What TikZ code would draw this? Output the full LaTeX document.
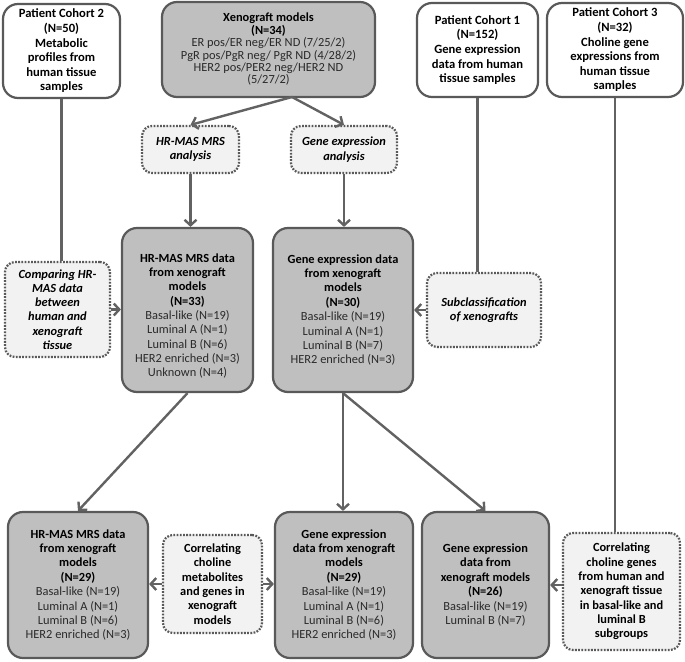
\documentclass[tikz,border=0pt]{standalone}
\usepackage{fontspec}
\setmainfont{Carlito}
\usetikzlibrary{arrows.meta}
\definecolor{bordc}{HTML}{595959}
\definecolor{linec}{HTML}{626262}
\definecolor{boxg}{HTML}{BFBFBF}
\definecolor{dotf}{HTML}{F2F2F2}
\definecolor{txtg}{HTML}{2A2A2A}
\newcommand\hd[1]{\textcolor{black}{\bfseries #1}}
\begin{document}
\begin{tikzpicture}[x=1pt,y=-1pt,
  base/.style={rounded corners=15pt, line width=2.2pt, draw=bordc, align=center, inner sep=2pt,
    font=\fontsize{12.4}{14.4}\selectfont},
  white box/.style={base, fill=white, text=black, font=\fontsize{12.6}{14.6}\selectfont\bfseries},
  gray box/.style={base, fill=boxg, text=txtg},
  plain text/.style={align=center, inner sep=0pt, text=txtg, font=\fontsize{12.4}{14.3}\selectfont},
  dot box/.style={base, rounded corners=10pt, fill=dotf, text=black, dash pattern=on 1.8pt off 1.4pt,
    font=\fontsize{12.4}{14.3}\selectfont\bfseries\itshape},
  conn/.style={line width=2.4pt, draw=linec},
  arr/.style={conn, -{Straight Barb[length=5.5pt,width=12pt]}}
]
\useasboundingbox (0,0) rectangle (685,661);

% top row
\node[white box, minimum width=117pt, minimum height=94pt] (c2) at (61.5,51)
  {Patient Cohort 2\\(N=50)\\Metabolic\\profiles from\\human tissue\\samples};
\node[gray box, minimum width=213pt, minimum height=95pt, font=\fontsize{12.4}{12.4}\selectfont] (xeno) at (268.5,49.5)
  {\hd{Xenograft models}\\\hd{(N=34)}\\ER pos/ER neg/ER ND (7/25/2)\\PgR pos/PgR neg/ PgR ND (4/28/2)\\HER2 pos/PER2 neg/HER2 ND\\(5/27/2)};
\node[white box, minimum width=121pt, minimum height=94pt] (c1) at (477.5,50)
  {Patient Cohort 1\\(N=152)\\Gene expression\\data from human\\tissue samples};
\node[white box, minimum width=136pt, minimum height=94pt] (c3) at (615,50)
  {Patient Cohort 3\\(N=32)\\Choline gene\\expressions from\\human tissue\\samples};

% analysis boxes
\node[dot box, minimum width=97pt, minimum height=47pt] (hra) at (190.5,149.5)
  {HR-MAS MRS\\analysis};
\node[dot box, minimum width=106pt, minimum height=47pt] (gea) at (344,149.5)
  {Gene expression\\analysis};

% middle row
\node[dot box, minimum width=105pt, minimum height=95pt] (comp) at (57.5,309.5)
  {Comparing HR-\\MAS data\\between\\human and\\xenograft\\tissue};
\node[gray box, minimum width=131pt, minimum height=164pt] (hrd) at (187.5,310) {};
\node[plain text] (hrdt) at (187.5,316)
  {\hd{HR-MAS MRS data}\\\hd{from xenograft}\\\hd{models}\\\hd{(N=33)}\\Basal-like (N=19)\\Luminal A (N=1)\\Luminal B (N=6)\\HER2 enriched (N=3)\\Unknown (N=4)};
\node[gray box, minimum width=140pt, minimum height=164pt] (ged) at (343,310)
  {\hd{Gene expression data}\\\hd{from xenograft}\\\hd{models}\\\hd{(N=30)}\\Basal-like (N=19)\\Luminal A (N=1)\\Luminal B (N=7)\\HER2 enriched (N=3)};
\node[dot box, minimum width=114pt, minimum height=74pt] (subc) at (484,310)
  {Subclassification\\of xenografts};

% bottom row
\node[gray box, minimum width=140pt, minimum height=146pt] (hrd2) at (78,585)
  {\hd{HR-MAS MRS data}\\\hd{from xenograft}\\\hd{models}\\\hd{(N=29)}\\Basal-like (N=19)\\Luminal A (N=1)\\Luminal B (N=6)\\HER2 enriched (N=3)};
\node[dot box, minimum width=99pt, minimum height=98pt, font=\fontsize{12.4}{14.3}\selectfont\bfseries] (corr1) at (212.5,584)
  {Correlating\\choline\\metabolites\\and genes in\\xenograft\\models};
\node[gray box, minimum width=138pt, minimum height=146pt] (ged2) at (344,585)
  {\hd{Gene expression}\\\hd{data from xenograft}\\\hd{models}\\\hd{(N=29)}\\Basal-like (N=19)\\Luminal A (N=1)\\Luminal B (N=6)\\HER2 enriched (N=3)};
\node[gray box, minimum width=127pt, minimum height=146pt] (ged3) at (485.5,585)
  {\hd{Gene expression}\\\hd{data from}\\\hd{xenograft models}\\\hd{(N=26)}\\Basal-like (N=19)\\Luminal B (N=7)};
\node[dot box, minimum width=117pt, minimum height=117pt, font=\fontsize{12.4}{14.3}\selectfont\bfseries] (corr2) at (621.5,591.5)
  {Correlating\\choline genes\\from human and\\xenograft tissue\\in basal-like and\\luminal B\\subgroups};

% connectors
\coordinate (xs) at (292,97);
\draw[arr] (xs) -- (hra.north);
\draw[arr] (xs) -- (gea.north);
\draw[arr] (hra.south) -- (hra.south |- hrd.north);
\draw[arr] (gea.south) -- (gea.south |- ged.north);
\draw[conn] (c2.south) -- (c2.south |- comp.north);
\draw[arr] (comp.east) -- (comp.east -| hrd.west);
\draw[conn] (c1.south) -- (c1.south |- subc.north);
\draw[arr] (subc.west) -- (subc.west -| ged.east);
\draw[conn] (c3.south) -- (c3.south |- corr2.north);
\draw[arr] (hrd.south) -- (hrd2.north);
\draw[arr] (ged.south) -- (ged.south |- ged2.north);
\draw[arr] (ged.south) -- (ged3.north);
\draw[arr] (corr1.west) -- (corr1.west -| hrd2.east);
\draw[arr] (corr1.east) -- (corr1.east -| ged2.west);
\draw[arr] (ged3.east -| corr2.west) -- (ged3.east);
\end{tikzpicture}
\end{document}
